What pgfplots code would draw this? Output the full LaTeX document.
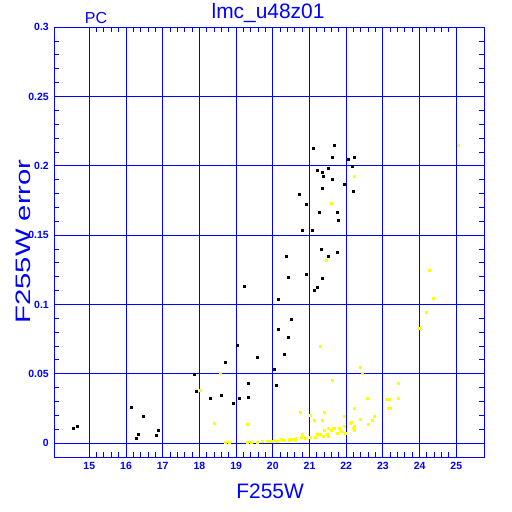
\documentclass[border=0pt]{standalone}
\usepackage{fontspec}
\setmainfont{Liberation Sans}
\usepackage{pgfplots}
\pgfplotsset{compat=1.18}
\definecolor{pblue}{rgb}{0,0,1}
\definecolor{pyellow}{rgb}{1,1,0}
\begin{document}
\begin{tikzpicture}[x=1bp,y=1bp]
\path[use as bounding box] (0,0) rectangle (512,512);
\begin{axis}[
  at={(54.3bp,54.7bp)}, anchor=south west,
  scale only axis, width=430bp, height=430bp,
  xmin=14.046, xmax=25.763, ymin=-0.0103, ymax=0.3,
  xtick={15,16,...,25},
  ytick={0,0.05,0.1,0.15,0.2,0.25,0.3},
  yticklabels={0,0.05,0.1,0.15,0.2,0.25,0.3},
  minor tick num=4,
  tick align=inside,
  major tick length=0pt, minor tick length=5bp,
  every tick/.style={pblue, line width=1bp},
  axis line style={pblue, line width=1.2bp},
  grid=major,
  major grid style={pblue, line width=1bp},
  /pgf/number format/assume math mode=true,
  tick label style={pblue, font=\fontsize{10.5}{12}\selectfont\bfseries},
  xticklabel style={yshift=-1bp},
  yticklabel style={xshift=-2bp},
  title={lmc\_u48z01},
  title style={at={(axis description cs:0.497,1)}, anchor=base, yshift=3.3bp, pblue, font=\fontsize{21}{24}\selectfont},
  xlabel={F255W},
  xlabel style={at={(axis description cs:0.502,0)}, anchor=base, yshift=-41bp, pblue, font=\fontsize{21}{24}\selectfont},
  ylabel={\scalebox{1.4}[1]{F255W error}},
  ylabel style={at={(axis description cs:-0.0565,0.502)}, anchor=base, pblue, font=\fontsize{21}{24}\selectfont},
  clip mode=individual,
]
\addplot[only marks, mark=square*, mark size=1bp, mark options={draw=pyellow, fill=pyellow}] coordinates {
(18.01,0.0382) (18.56,0.0507) (18.41,0.0146) (19.30,0.0139) (18.70,0.0009) (18.81,0.0009)
(19.29,0.0007) (19.40,0.0007) (19.57,0.0007) (19.71,0.0014) (19.84,0.0014) (19.93,0.0014)
(19.97,0.0014) (20.05,0.0017) (20.11,0.0014) (20.22,0.0029) (20.31,0.0017) (20.44,0.0029) (20.29,0.0017)
(20.45,0.0017) (20.47,0.0027) (20.56,0.0027) (20.60,0.0017) (20.65,0.0034) (20.76,0.0045)
(20.81,0.0065) (20.88,0.0036) (21.01,0.0045) (21.15,0.0045) (21.20,0.0065) (21.29,0.0065)
(21.38,0.0050) (21.41,0.0094) (21.47,0.0065) (21.51,0.0050) (21.59,0.0094) (21.50,0.0105)
(21.65,0.0106) (21.68,0.0105) (21.76,0.0074) (21.81,0.0105) (21.87,0.0088) (21.94,0.0122) (21.98,0.0074)
(22.10,0.0142) (22.14,0.0153) (22.18,0.0105) (22.22,0.0094) (22.23,0.0118)
(20.74,0.0220) (21.03,0.0202) (21.14,0.0166) (21.34,0.0166) (21.39,0.0220) (21.94,0.0195)
(22.23,0.0254) (22.38,0.0173) (22.56,0.0325) (22.61,0.0137) (22.72,0.0166) (22.77,0.0195)
(21.29,0.0697) (21.45,0.1316) (21.58,0.1727) (22.22,0.1929) (21.62,0.0455) (22.38,0.0545)
(22.43,0.0507) (23.08,0.0317) (23.17,0.0317) (23.43,0.0325) (23.43,0.0435) (23.14,0.0254)
(23.19,0.0254) (23.98,0.0825) (24.19,0.0947) (24.25,0.1248) (24.36,0.1046) (25.05,0.2148)
};
\addplot[only marks, mark=square*, mark size=1bp, mark options={draw=black, fill=black}] coordinates {
(14.57,0.0106) (14.68,0.0125) (16.13,0.0255) (16.46,0.0197) (16.34,0.0067) (16.27,0.0038)
(16.89,0.0089) (16.82,0.0060) (17.92,0.0377) (17.87,0.0500) (18.29,0.0327) (18.59,0.0346)
(18.70,0.0585) (18.93,0.0286) (19.08,0.0327) (19.02,0.0707) (19.22,0.1135) (19.32,0.0435)
(19.34,0.0334) (19.57,0.0616) (20.03,0.0534) (20.09,0.0416) (20.14,0.1037) (20.14,0.0823)
(20.31,0.0642) (20.36,0.1347) (20.41,0.1200) (20.41,0.0767) (20.50,0.0895) (20.72,0.1799)
(20.80,0.1539) (20.90,0.1725) (20.90,0.1217) (21.08,0.1539) (21.10,0.2131) (21.14,0.1104)
(21.20,0.1121) (21.20,0.1968) (21.26,0.1669) (21.31,0.1400) (21.34,0.1951) (21.34,0.1838)
(21.34,0.1186) (21.37,0.1922) (21.50,0.1985) (21.50,0.1347) (21.61,0.2066) (21.61,0.1905)
(21.67,0.2148) (21.75,0.1378) (21.76,0.1669) (21.78,0.1609) (21.94,0.1871) (22.05,0.2050)
(22.16,0.2001) (22.18,0.1819) (22.21,0.2066)
};
\node[anchor=base, pblue, font=\fontsize{16}{18}\selectfont, yshift=3.3bp] at (axis description cs:0.097,1) {PC};
\end{axis}
\end{tikzpicture}
\end{document}
